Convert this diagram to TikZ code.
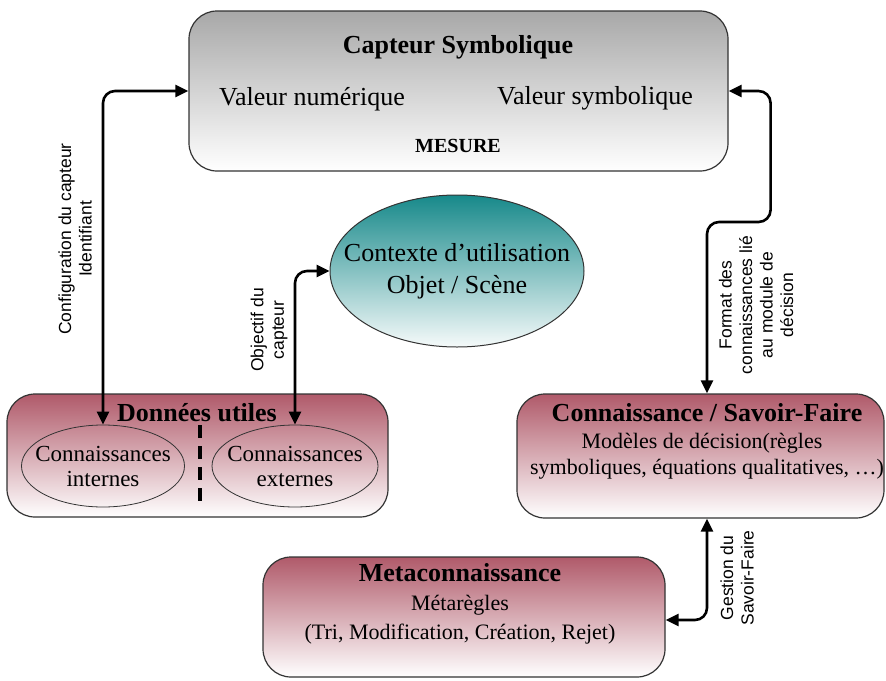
\documentclass[tikz,border=0pt]{standalone}
\usepackage{fontspec}
\setmainfont{Liberation Serif}
\setsansfont{Liberation Sans}
\usetikzlibrary{arrows.meta}
\usetikzlibrary{shapes.geometric}
\definecolor{grisboite}{HTML}{A8A8A8}
\definecolor{roseboite}{HTML}{B05A6A}
\definecolor{sarcelle}{HTML}{17898A}
\tikzset{
    boite/.style={
        draw=black!80,
        line width=1.2pt,
        rounded corners=28pt,
        inner sep=0,
    },
    boite grise/.style={
        boite,
        top color=grisboite,
        bottom color=white,
    },
    boite rose/.style={
        boite,
        top color=roseboite,
        bottom color=white,
    },
    bulle/.style={
        ellipse,
        draw=black!80,
        line width=0.8pt,
        inner sep=0,
    },
    texte bulle/.style={
        align=center,
        font=\fontsize{23}{25}\selectfont,
    },
    titre/.style={
        anchor=base,
        font=\bfseries\fontsize{26}{30}\selectfont,
    },
    texte/.style={
        anchor=base,
        font=\fontsize{22}{26}\selectfont,
    },
    etiquette/.style={
        rotate=90,
        align=center,
        font=\sffamily\fontsize{17.5}{20.5}\selectfont,
    },
    fleche/.style={
        line width=2.6pt,
        rounded corners=12pt,
        {Triangle[length=13pt,width=12pt]}-{Triangle[length=13pt,width=12pt]},
    },
}

\begin{document}
\begin{tikzpicture}[x=1pt, y=-1pt]

    \useasboundingbox (0,0) rectangle (886,680);

    % capteur
    \node[boite grise, minimum width=539pt, minimum height=160pt] (capteur) at (458.5, 91) {};
    \node[titre] (titrecapteur) at (458, 53) {Capteur Symbolique};
    \node[texte, font=\fontsize{26}{30}\selectfont] (valnum) at (312, 105) {Valeur numérique};
    \node[texte, font=\fontsize{26}{30}\selectfont] (valsym) at (595, 104) {Valeur symbolique};
    \node[titre, font=\bfseries\fontsize{20}{24}\selectfont] (mesure) at (458, 152) {MESURE};

    % contexte
    \node[bulle, line width=1pt, minimum width=254pt, minimum height=152pt,
        top color=sarcelle, bottom color=sarcelle!4] (contexte) at (457, 271) {};
    \node[texte bulle, font=\fontsize{26}{32}\selectfont] (textecontexte) at (contexte.center)
        {Contexte d’utilisation\\Objet / Scène};

    % donnees utiles
    \node[boite rose, minimum width=381pt, minimum height=123pt] (donnees) at (197.5, 455.5) {};
    \node[titre] (titredonnees) at (197, 421) {Données utiles};
    \node[bulle, minimum width=163pt, minimum height=82pt] (interne) at (103, 466) {};
    \node[bulle, minimum width=166pt, minimum height=82pt] (externe) at (295, 466) {};
    \node[texte bulle] (texteinterne) at (interne.center) {Connaissances\\internes};
    \node[texte bulle] (texteexterne) at (externe.center) {Connaissances\\externes};
    \draw[line width=3.5pt, dash pattern=on 13pt off 8pt] (200, 425) -- (200, 505);

    % savoir-faire
    \node[boite rose, minimum width=367pt, minimum height=124pt] (savoir) at (700.5, 456) {};
    \node[titre] (titresavoir) at (707, 421) {Connaissance / Savoir-Faire};
    \node[texte] (modeles) at (702, 448) {Modèles de décision(règles};
    \node[texte] (equations) at (707, 474) {symboliques, équations qualitatives, …)};

    % metaconnaissance
    \node[boite rose, minimum width=402pt, minimum height=120pt] (meta) at (464, 617) {};
    \node[titre] (titremeta) at (460, 581) {Metaconnaissance};
    \node[texte] (metaregles) at (460, 610) {Métarègles};
    \node[texte] (operations) at (460, 639) {(Tri, Modification, Création, Rejet)};

    % liens
    \draw[fleche] (capteur.west) -| (interne.north);
    \draw[fleche] (contexte.west) -| (externe.north);
    \draw[fleche] (capteur.east) -- ++(42, 0) -- ++(0, 131) -| ([xshift=6.5pt]savoir.north);
    \draw[fleche] ([xshift=6.5pt]savoir.south) |- ([yshift=-3pt]meta.east);

    \node[etiquette] (configuration) at (75, 239) {Configuration du capteur\\Identifiant};
    \node[etiquette] (objectif) at (269, 330) {Objectif du\\capteur};
    \node[etiquette] (format) at (756, 305) {Format des\\connaissances lié\\au module de\\décision};
    \node[etiquette] (gestion) at (737, 578) {Gestion du\\Savoir-Faire};

\end{tikzpicture}
\end{document}
